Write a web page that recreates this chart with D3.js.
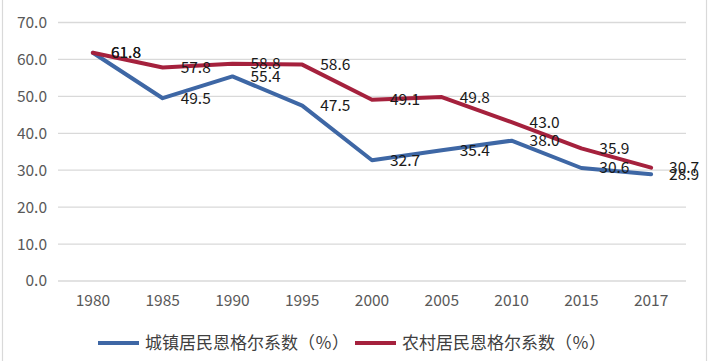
<!DOCTYPE html>
<html><head><meta charset="utf-8">
<script src="https://cdn.jsdelivr.net/npm/d3@7"></script>
<style>html,body{margin:0;padding:0;background:#fff;}svg{display:block;}</style>
</head><body>
<svg id="chart" width="709" height="361"></svg>
<script>
const categories = ["1980","1985","1990","1995","2000","2005","2010","2015","2017"];
const urbanValues = [61.8,49.5,55.4,47.5,32.7,35.4,38.0,30.6,28.9];
const ruralValues = [61.8,57.8,58.8,58.6,49.1,49.8,43.0,35.9,30.7];
const yTicks = [0,10,20,30,40,50,60,70];
const seriesNames = ["城镇居民恩格尔系数（％）","农村居民恩格尔系数（％）"];
const seriesColors = ["#3E67A5","#A5213D"];

const svg = d3.select("#chart");
const font = "'Noto Sans CJK SC','Microsoft YaHei',sans-serif";
svg.append("rect").attr("x",2.5).attr("y",-2).attr("width",704).attr("height",370)
  .attr("fill","#fff").attr("stroke","#d9d9d9").attr("stroke-width",1.2);

const x = d3.scaleBand().domain(categories).range([58,686]).padding(0);
const y = d3.scaleLinear().domain([0,70]).range([281,22.5]);

// gridlines
svg.append("g").selectAll("line").data(yTicks).join("line")
  .attr("x1",58).attr("x2",686).attr("y1",d=>y(d)).attr("y2",d=>y(d))
  .attr("stroke","#d9d9d9").attr("stroke-width",1.3);

// y axis
const yAxis = d3.axisLeft(y).tickValues(yTicks).tickFormat(d3.format(".1f")).tickSize(0).tickPadding(10);
const gy = svg.append("g").attr("transform","translate(57,0)").call(yAxis);
gy.select(".domain").remove();
gy.selectAll("text").attr("font-family",font).attr("font-size",15.5).attr("fill","#595959");

// x axis
const xAxis = d3.axisBottom(x).tickSize(0).tickPadding(14);
const gx = svg.append("g").attr("transform","translate(0,281)").call(xAxis);
gx.select(".domain").remove();
gx.selectAll("text").attr("font-family",font).attr("font-size",15.5).attr("fill","#595959");

const cx = d => x(d) + x.bandwidth()/2;
const line = d3.line().x(d=>cx(d.c)).y(d=>y(d.v));
const series = [urbanValues, ruralValues].map((vals,i)=>({
  name: seriesNames[i], color: seriesColors[i],
  pts: categories.map((c,j)=>({c, v: vals[j]}))
}));

series.forEach(s=>{
  svg.append("path").datum(s.pts).attr("d",line).attr("fill","none")
    .attr("stroke",s.color).attr("stroke-width",4).attr("stroke-linejoin","round").attr("stroke-linecap","round");
});
series.forEach(s=>{
  svg.append("g").selectAll("text").data(s.pts).join("text")
    .attr("x",d=>cx(d.c)+18).attr("y",d=>y(d.v)).attr("dy","0.35em")
    .attr("font-family",font).attr("font-size",15.5).attr("fill","#1a1a1a")
    .text(d=>d.v.toFixed(1));
});

// legend
const legendX = [98, 355];
series.forEach((s,i)=>{
  const g = svg.append("g").attr("transform",`translate(${legendX[i]},343)`);
  g.append("line").attr("x1",0).attr("x2",41).attr("y1",0).attr("y2",0)
    .attr("stroke",s.color).attr("stroke-width",4);
  g.append("text").attr("x",47).attr("y",0).attr("dy","0.35em")
    .attr("font-family",font).attr("font-size",17).attr("fill","#404040").text(s.name);
});
</script>
</body></html>
